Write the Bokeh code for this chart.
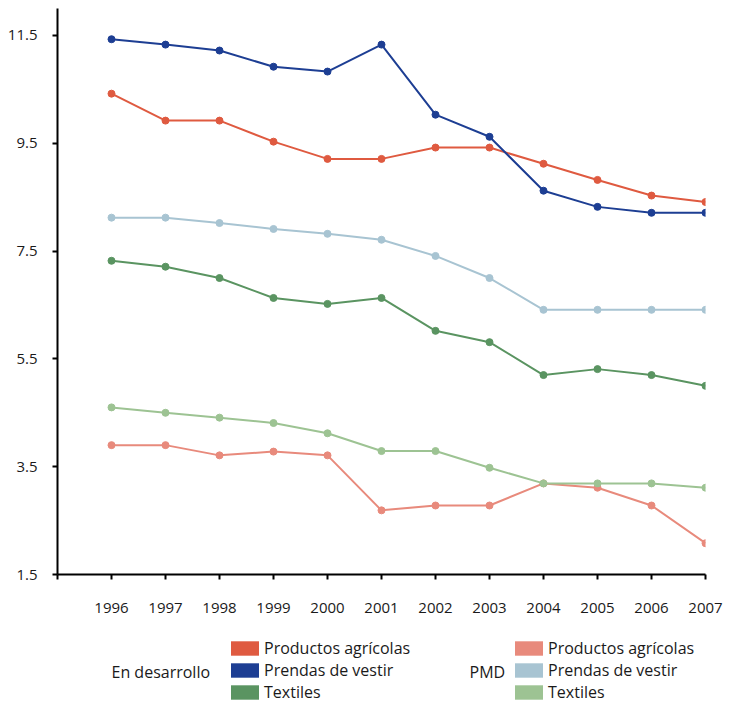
from bokeh.plotting import figure
from bokeh.models import FixedTicker, Legend, LegendItem, Label, Range1d
from bokeh.layouts import column
from bokeh.embed import file_html
from bokeh.resources import INLINE

years = [1996, 1997, 1998, 1999, 2000, 2001, 2002, 2003, 2004, 2005, 2006, 2007]

dev_agricolas = [10.42, 9.92, 9.92, 9.53, 9.21, 9.21, 9.42, 9.42, 9.12, 8.82, 8.53, 8.41]
dev_prendas = [11.43, 11.33, 11.22, 10.92, 10.83, 11.33, 10.03, 9.62, 8.62, 8.32, 8.21, 8.21]
dev_textiles = [7.32, 7.21, 7.0, 6.63, 6.52, 6.63, 6.02, 5.81, 5.2, 5.31, 5.2, 5.0]

pmd_agricolas = [3.9, 3.9, 3.71, 3.78, 3.71, 2.69, 2.78, 2.78, 3.19, 3.11, 2.78, 2.08]
pmd_prendas = [8.12, 8.12, 8.02, 7.91, 7.82, 7.71, 7.41, 7.0, 6.41, 6.41, 6.41, 6.41]
pmd_textiles = [4.6, 4.5, 4.41, 4.31, 4.12, 3.79, 3.79, 3.48, 3.19, 3.19, 3.19, 3.11]

y_ticks = [1.5, 3.5, 5.5, 7.5, 9.5, 11.5]

series_labels = ["Productos agrícolas", "Prendas de vestir", "Textiles"]
group_labels = ["En desarrollo", "PMD"]

dev_colors = ["#DF5A40", "#1D3E93", "#5A9461"]
pmd_colors = ["#E88A7C", "#A8C4D2", "#9DC393"]

FONT = "Open Sans"
NAN = float("nan")

p = figure(width=730, height=636, output_backend="svg", toolbar_location=None,
           x_range=Range1d(years[0] - 1, years[-1]), y_range=Range1d(y_ticks[0], 12.0),
           min_border_left=57, min_border_right=25, min_border_top=8, min_border_bottom=62)
p.outline_line_color = None
p.xgrid.visible = False
p.ygrid.visible = False

series = [(dev_agricolas, dev_colors[0]), (dev_prendas, dev_colors[1]), (dev_textiles, dev_colors[2]),
          (pmd_agricolas, pmd_colors[0]), (pmd_prendas, pmd_colors[1]), (pmd_textiles, pmd_colors[2])]
for vals, c in series:
    p.line(years, vals, line_color=c, line_width=2)
    p.scatter(years, vals, size=7, fill_color=c, line_color=c)

ax_ticks = [years[0] - 1] + years
p.xaxis.ticker = FixedTicker(ticks=ax_ticks)
p.xaxis.major_label_overrides = {years[0] - 1: ""}
p.yaxis.ticker = FixedTicker(ticks=y_ticks)
for ax in (p.xaxis[0], p.yaxis[0]):
    ax.axis_line_width = 2
    ax.axis_line_color = "black"
    ax.major_tick_line_width = 2
    ax.major_tick_line_color = "black"
    ax.major_tick_out = 5
    ax.major_tick_in = 0
    ax.minor_tick_line_color = None
    ax.major_label_text_font = FONT
    ax.major_label_text_font_size = "15px"
    ax.major_label_text_color = "#1a1a1a"
p.xaxis.major_label_standoff = 23
p.yaxis.major_label_standoff = 15

# legend strip (its frame is aligned with the main frame: left offset 57px)
leg = figure(width=730, height=71, output_backend="svg", toolbar_location=None,
             x_range=Range1d(0, 1), y_range=Range1d(0, 1),
             x_axis_type=None, y_axis_type=None,
             min_border_left=57, min_border_right=25, min_border_top=0, min_border_bottom=0)
leg.outline_line_color = None

def make_legend(colors, x):
    items = []
    for lab, c in zip(series_labels, colors):
        r = leg.quad(left=[NAN], right=[NAN], top=[NAN], bottom=[NAN], fill_color=c, line_color=None)
        items.append(LegendItem(label=lab, renderers=[r]))
    lg = Legend(items=items, location=(x, 4), orientation="vertical",
                glyph_width=35, glyph_height=18, label_standoff=2, spacing=0,
                padding=0, margin=0, border_line_color=None, background_fill_alpha=0,
                label_text_font=FONT, label_text_font_size="16px", label_text_color="#1a1a1a",
                label_height=17)
    leg.add_layout(lg)

make_legend(dev_colors, 170)
make_legend(pmd_colors, 454)

for txt, x in zip(group_labels, [54, 412]):
    leg.add_layout(Label(x=x, y=36, x_units="screen", y_units="screen", text=txt,
                         text_font=FONT, text_font_size="16px", text_color="#1a1a1a",
                         text_baseline="middle"))

layout = column(p, leg, spacing=0)
open("out.html", "w").write(file_html(layout, INLINE))
